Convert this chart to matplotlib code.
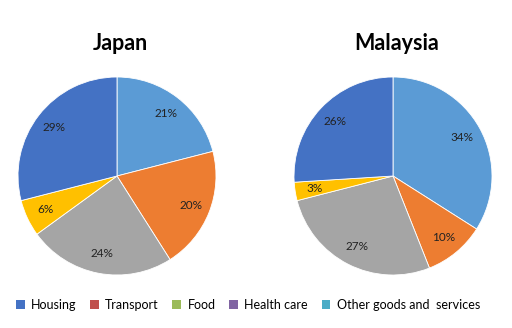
import matplotlib.pyplot as plt
from matplotlib.patches import Patch

plt.rcParams['font.family'] = ['Lato', 'DejaVu Sans']

# slice values, clockwise from 12 o'clock
japan = [21, 20, 24, 6, 29]
malaysia = [34, 10, 27, 3, 26]
slice_colors = ['#5B9BD5', '#ED7D31', '#A5A5A5', '#FFC000', '#4472C4']

legend_labels = ['Housing', 'Transport', 'Food', 'Health care', 'Other goods and  services']
legend_colors = ['#4472C4', '#C0504D', '#9BBB59', '#8064A2', '#4BACC6']

fig = plt.figure(figsize=(5.12, 3.28), dpi=100)

def draw_pie(left, values, title, title_x):
    ax = fig.add_axes([left, 53 / 328, 198 / 512, 198 / 328])
    ax.pie(values, colors=slice_colors, startangle=90, counterclock=False,
           autopct='%d%%', pctdistance=0.8,
           wedgeprops=dict(linewidth=0.6, edgecolor='white'),
           textprops=dict(fontsize=8.5, color='#222222'))
    ax.set_xlim(-1, 1)
    ax.set_ylim(-1, 1)
    ax.set_aspect('equal')
    fig.text(title_x / 512, 1 - 43 / 328, title, ha='center', va='center',
             fontsize=15.5, fontweight='bold')

draw_pie(18 / 512, japan, 'Japan', 120)
draw_pie(294 / 512, malaysia, 'Malaysia', 397)

handles = [Patch(facecolor=c) for c in legend_colors]
fig.legend(handles, legend_labels, loc='center', bbox_to_anchor=(0.484, 1 - 305 / 328),
           ncol=5, frameon=False, fontsize=9, handlelength=0.7, handleheight=0.7,
           handletextpad=0.5, columnspacing=1.1)

fig.savefig('out.png', dpi=100)
